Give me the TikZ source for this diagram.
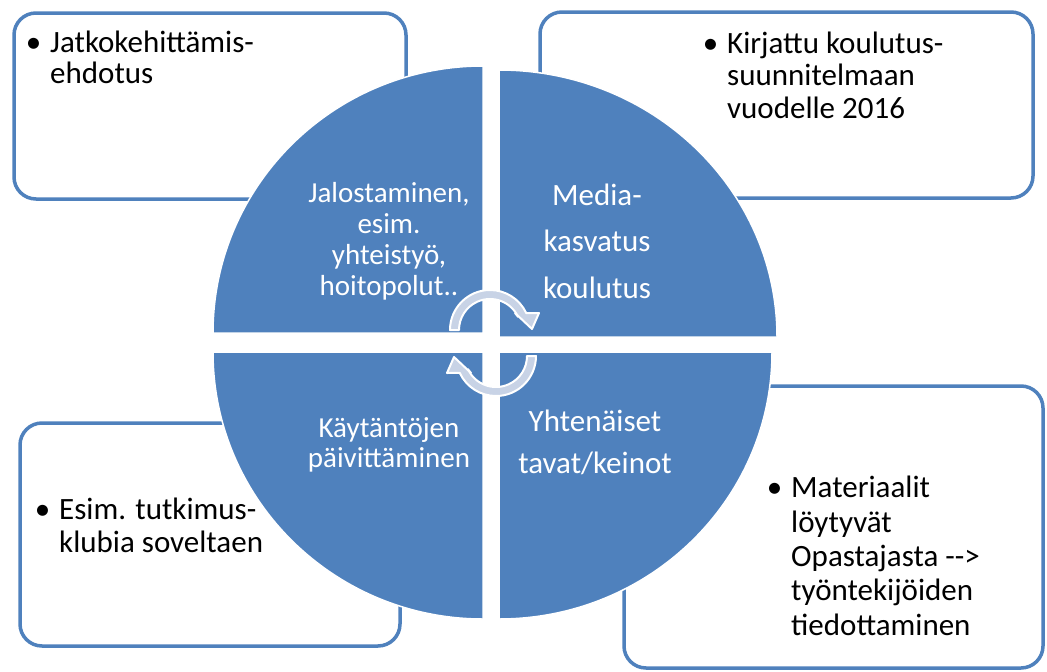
\documentclass[tikz,border=0pt]{standalone}
\usepackage{fontspec}
\setmainfont{Carlito}
\definecolor{qblue}{RGB}{79,129,189}
\definecolor{arrowfill}{RGB}{200,211,230}
\begin{document}
\begin{tikzpicture}[x=1pt,y=1pt,
  infobox/.style={draw=qblue, line width=3.5pt, fill=white, rounded corners=22pt},
  quad/.style={fill=qblue, draw=white, line width=1.5pt},
  boxtext/.style={anchor=base west, align=left, text=black, inner sep=0pt},
  quadtext/.style={anchor=base, align=center, text=white, inner sep=0pt},
  cyc/.style={fill=arrowfill, draw=white, line width=2pt, line join=round}
]
\useasboundingbox (0,0) rectangle (1047,-672);
% outer boxes
\draw[infobox] (14,-13) rectangle (406,-199);
\draw[infobox] (540,-12) rectangle (1033,-198);
\draw[infobox] (20,-423) rectangle (400,-646);
\draw[infobox] (624,-386) rectangle (1043,-668);
% box texts (anchored at the baseline of the last line)
\node[boxtext, font=\fontsize{31}{31}\selectfont] (t1) at (50,-83)
  {\llap{•\hspace{9pt}}Jatkokehittämis-\\ehdotus};
\node[boxtext, font=\fontsize{31}{32.5}\selectfont] (t2) at (727,-118)
  {\llap{•\hspace{9pt}}Kirjattu koulutus-\\suunnitelmaan\\vuodelle 2016};
\node[boxtext, font=\fontsize{31}{33}\selectfont] (t3) at (59,-552)
  {\llap{•\hspace{9pt}}Esim. tutkimus-\\klubia soveltaen};
\node[boxtext, font=\fontsize{31}{34.3}\selectfont] (t4) at (791,-635)
  {\llap{•\hspace{9pt}}Materiaalit\\löytyvät\\Opastajasta -{}-{}>\\työntekijöiden\\tiedottaminen};
% quadrants
\path[quad] (483,-333) -- (213,-333) arc[start angle=180,end angle=90,x radius=270,y radius=267] -- cycle;
\path[quad] (499,-337) -- (499,-70) arc[start angle=90,end angle=0,x radius=278,y radius=267] -- cycle;
\path[quad] (483,-352) -- (213,-352) arc[start angle=180,end angle=270,x radius=270,y radius=267] -- cycle;
\path[quad] (499,-352) -- (772,-352) arc[start angle=0,end angle=-90,x radius=273,y radius=267] -- cycle;
% quadrant texts (anchored at the baseline of the last line)
\node[quadtext, font=\fontsize{29}{31}\selectfont] (q1) at (389,-295)
  {Jalostaminen,\\esim.\\yhteistyö,\\hoitopolut..};
\node[quadtext, font=\fontsize{31}{46.5}\selectfont] (q2) at (597,-298)
  {Media-\\kasvatus\\koulutus};
\node[quadtext, font=\fontsize{29}{30}\selectfont] (q3) at (389,-467)
  {Käytäntöjen\\päivittäminen};
\node[quadtext, font=\fontsize{31}{42}\selectfont] (q4) at (595,-473)
  {Yhtenäiset\\tavat/keinot};
% circular arrows
\path[cyc] (450,-330) arc[start angle=180,end angle=25,radius=40] -- (539,-313) -- (532,-329) -- (515,-313)
  -- ([shift={(490,-330)}]25:31) arc[start angle=25,end angle=180,radius=31] -- cycle;
\begin{scope}[rotate around={180:(493,-343)}]
\path[cyc] (450,-330) arc[start angle=180,end angle=25,radius=40] -- (539,-313) -- (532,-329) -- (515,-313)
  -- ([shift={(490,-330)}]25:31) arc[start angle=25,end angle=180,radius=31] -- cycle;
\end{scope}
\end{tikzpicture}
\end{document}
